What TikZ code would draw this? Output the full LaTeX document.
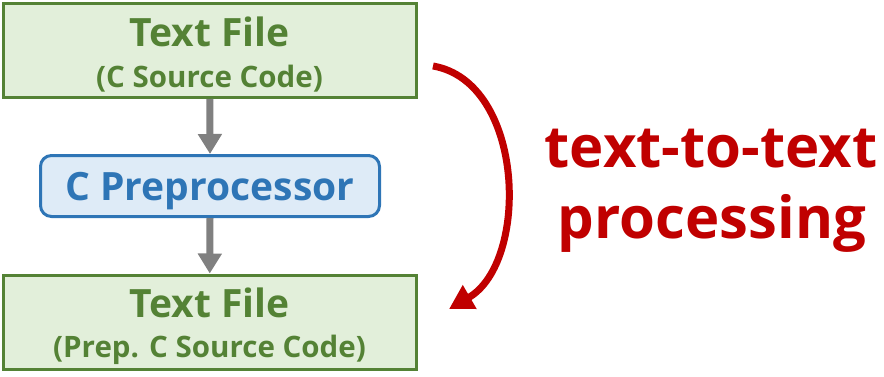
\documentclass[tikz,border=0pt]{standalone}
\usepackage{fontspec}
\setmainfont{Open Sans}
\usetikzlibrary{arrows.meta}
\definecolor{filegreen}{HTML}{548235}
\definecolor{filefill}{HTML}{E2EFDA}
\definecolor{procblue}{HTML}{2E75B6}
\definecolor{procfill}{HTML}{DEEBF7}
\definecolor{flowgray}{HTML}{808080}
\definecolor{notered}{HTML}{C00000}
\tikzset{
  filebox/.style={draw=filegreen, fill=filefill, line width=3pt,
    minimum width=412.5pt, minimum height=94pt, inner sep=0pt},
  procbox/.style={draw=procblue, fill=procfill, line width=3pt,
    rounded corners=11pt, minimum width=339pt, minimum height=61pt, inner sep=0pt},
  flow/.style={draw=flowgray, line width=7pt,
    -{Triangle[length=20pt, width=23pt]}},
  bigtxt/.style={font=\fontsize{39}{44}\selectfont\bfseries, text=filegreen},
  smalltxt/.style={font=\fontsize{29.5}{32}\selectfont\bfseries, text=filegreen},
  proctxt/.style={font=\fontsize{39}{42}\selectfont\bfseries, text=procblue},
  notetxt/.style={font=\fontsize{58}{70}\selectfont\bfseries, text=notered,
    align=center, inner sep=0pt}
}
\begin{document}
\begin{tikzpicture}[x=1pt, y=-1pt]
  \useasboundingbox (0,0) rectangle (884,376);

  % the three stages
  \node[filebox] (src) at (209.75,50.5) {};
  \node[procbox] (cpp) at (210,186) {};
  \node[filebox] (out) at (209.75,322) {};

  % labels, placed by baseline
  \node[bigtxt, anchor=base] at (209.5,46) {Text File};
  \node[smalltxt, anchor=base] at (209.5,87) {(C Source Code)};
  \node[proctxt, anchor=base] at (210,200) {C Preprocessor};
  \node[bigtxt, anchor=base] at (209.5,317) {Text File};
  \node[smalltxt, anchor=base] at (209.5,357) {(Prep. C Source Code)};

  % flow between stages
  \draw[flow] (src.south) -- (cpp.north);
  \draw[flow] (cpp.south) -- (out.north);

  % curved arrow on the right
  \coordinate (arcstart) at (433,66);
  \coordinate (arcend) at (449,309);
  \draw[notered, line width=7pt, -{Triangle[length=24pt, width=26pt]}]
    (arcstart) .. controls (525,82) and (530,262) .. (arcend);

  \node[notetxt, anchor=base] (note1) at (711,167) {text-to-text};
  \node[notetxt, anchor=base] (note2) at (712,238) {processing};
\end{tikzpicture}
\end{document}
